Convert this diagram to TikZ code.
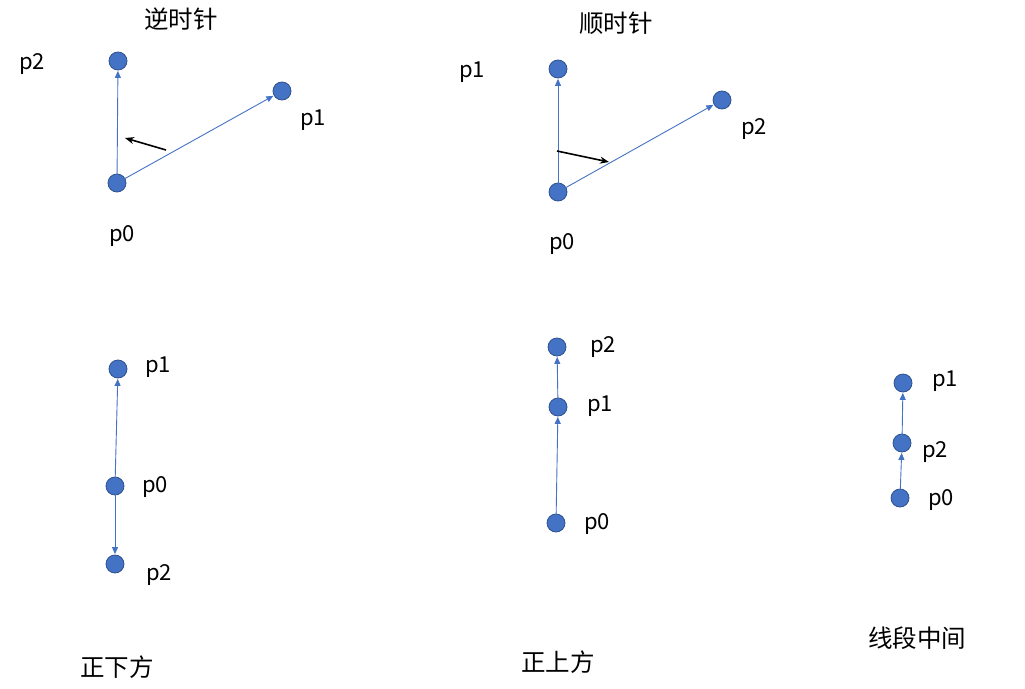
\documentclass[tikz,border=0pt]{standalone}
\usepackage{fontspec}
\setmainfont{Noto Sans CJK SC}
\usetikzlibrary{arrows.meta}
\definecolor{dotfill}{HTML}{4472C4}
\definecolor{dotline}{HTML}{2F528F}
\tikzset{
  pt/.style={circle,fill=dotfill,draw=dotline,line width=0.8pt,minimum size=18pt,inner sep=0pt},
  vec/.style={draw=dotfill,line width=0.9pt,-{Triangle[length=7pt,width=6pt]},shorten >=0.5pt},
  dir/.style={draw=black,line width=1.6pt,-{Stealth[length=9pt,width=7pt]}},
  lbl/.style={font=\fontsize{22}{26}\selectfont,inner sep=0pt},
  ttl/.style={font=\fontsize{24.5}{28}\selectfont,inner sep=0pt}
}
\begin{document}
\begin{tikzpicture}[x=1pt,y=-1pt]
\useasboundingbox (0,0) rectangle (1025,688);
% top-left: counter-clockwise
\node[pt] (a2) at (118,61) {};
\node[pt] (a1) at (282,91) {};
\node[pt] (a0) at (117,183) {};
\draw[vec] (a0.center) -- (a2);
\draw[vec] (a0.center) -- (a1);
\coordinate (as) at (166,150);
\coordinate (ae) at (125,138);
\draw[dir] (as) -- (ae);
\node[lbl] (la2) at (32,64) {p2};
\node[lbl] (la1) at (313,120) {p1};
\node[lbl] (la0) at (122,236) {p0};
\node[ttl] (ta) at (181,19) {逆时针};
% top-middle: clockwise
\node[pt] (b1) at (558,69) {};
\node[pt] (b2) at (722,100) {};
\node[pt] (b0) at (558,192) {};
\draw[vec] (b0.center) -- (b1);
\draw[vec] (b0.center) -- (b2);
\coordinate (bs) at (557,151);
\coordinate (be) at (609,162);
\draw[dir] (bs) -- (be);
\node[lbl] (lb1) at (472,72) {p1};
\node[lbl] (lb2) at (754,129) {p2};
\node[lbl] (lb0) at (562,244) {p0};
\node[ttl] (tb) at (616,23) {顺时针};
% bottom-left
\node[pt] (c1) at (118,369) {};
\node[pt] (c0) at (115,486) {};
\node[pt] (c2) at (115,564) {};
\draw[vec] (c0.center) -- (c1);
\draw[vec] (c0.center) -- (c2);
\node[lbl] (lc1) at (158,367) {p1};
\node[lbl] (lc0) at (155,487) {p0};
\node[lbl] (lc2) at (159,575) {p2};
\node[ttl] (tc) at (117,667) {正下方};
% bottom-middle
\node[pt] (d2) at (557,347) {};
\node[pt] (d1) at (558,407) {};
\node[pt] (d0) at (556,523) {};
\draw[vec] (d0.center) -- (d1);
\draw[vec] (d1.center) -- (d2);
\node[lbl] (ld2) at (603,347) {p2};
\node[lbl] (ld1) at (600,406) {p1};
\node[lbl] (ld0) at (597,524) {p0};
\node[ttl] (td) at (558,662) {正上方};
% bottom-right
\node[pt] (e1) at (903,383) {};
\node[pt] (e2) at (902,443) {};
\node[pt] (e0) at (900,498) {};
\draw[vec] (e0.center) -- (e2);
\draw[vec] (e2.center) -- (e1);
\node[lbl] (le1) at (945,381) {p1};
\node[lbl] (le2) at (935,452) {p2};
\node[lbl] (le0) at (941,500) {p0};
\node[ttl] (te) at (917,638) {线段中间};
\end{tikzpicture}
\end{document}
